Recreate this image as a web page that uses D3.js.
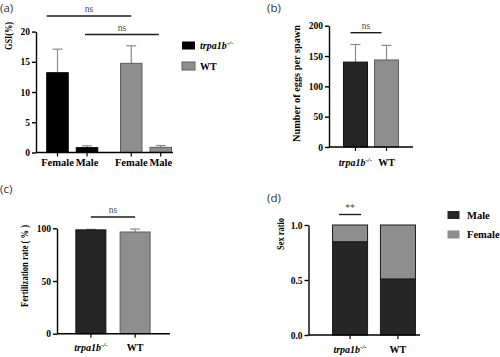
<!DOCTYPE html>
<html><head><meta charset="utf-8">
<script src="https://cdn.jsdelivr.net/npm/d3@7"></script>
<style>
body{margin:0;background:#fff}
svg{display:block}
</style></head>
<body><svg id="c" width="500" height="357"></svg>
<script>
// ---------- data ----------
const gsiCategories = ["Female","Male"];
const genotypes = ["trpa1b","WT"];
const gsiTrpa = [13.2, 0.8];
const gsiTrpaSD = [3.9, 0.3];
const gsiWT = [14.75, 0.85];
const gsiWTSD = [2.9, 0.3];
const gsiTicks = [0,5,10,15,20];

const eggsMean = [140, 143.5];
const eggsSD = [29, 24];
const eggsTicks = [0,50,100,150,200];

const fertMean = [98.5, 96.5];
const fertSD = [0.5, 2.8];
const fertTicks = [0,50,100];

const sexMale = [0.848, 0.51];
const sexFemale = [0.152, 0.49];
const sexTicks = [0,0.5,1.0];
const sexSeries = ["Male","Female"];

const sigLabels = ["ns","ns","ns","ns","**"];

// ---------- helpers ----------
const svg = d3.select("#c");
const BLACK = "#000", DARK = "#262626", GREY = "#8e8e8e", GREYSTROKE = "#5e5e5e", ERR = "#8a8a8a";
const serif = '"Liberation Serif","Times New Roman",serif';

function panelLabel(t, x, y){
  svg.append("text").attr("x",x).attr("y",y).text(t)
    .style("font-family",'"Open Sans","DejaVu Sans",sans-serif').style("font-size","11.5px").attr("fill","#333");
}
function yAxis(scale, x, ticks, fmt){
  const g = svg.append("g").attr("transform",`translate(${x},0)`)
    .call(d3.axisLeft(scale).tickValues(ticks).tickSize(4).tickSizeOuter(0).tickFormat(fmt).tickPadding(2));
  g.select(".domain").attr("stroke","#000").attr("stroke-width",1.4);
  g.selectAll(".tick line").attr("stroke","#000").attr("stroke-width",1.4);
  g.selectAll("text").style("font-family",serif).style("font-weight","bold").style("font-size","9.5px").attr("fill","#000");
  return g;
}
function xAxisLine(x0, x1, y, tickXs){
  svg.append("line").attr("x1",x0).attr("x2",x1).attr("y1",y).attr("y2",y).attr("stroke","#000").attr("stroke-width",1.4);
  tickXs.forEach(tx=>svg.append("line").attr("x1",tx).attr("x2",tx).attr("y1",y).attr("y2",y+4).attr("stroke","#000").attr("stroke-width",1.2));
}
function yLabel(t, x, y, len, size){
  svg.append("text").attr("transform",`translate(${x},${y}) rotate(-90)`).attr("text-anchor","middle")
    .attr("textLength",len).attr("lengthAdjust","spacingAndGlyphs")
    .style("font-family",serif).style("font-weight","bold").style("font-size",size+"px").text(t);
}
function genoLabel(sel, size){
  sel.style("font-family",serif).style("font-weight","bold").style("font-size",size+"px");
  sel.append("tspan").style("font-style","italic").text("trpa1b");
  sel.append("tspan").attr("dy",-4).style("font-size",(size*0.7)+"px").style("font-style","italic").text("-/-");
}
function bar(x, w, y0, y1, fill, stroke){
  svg.append("rect").attr("x",x-w/2).attr("width",w).attr("y",y1).attr("height",y0-y1)
    .attr("fill",fill).attr("stroke",stroke).attr("stroke-width",1);
}
function errBar(x, yTop, yEnd, cap){
  svg.append("line").attr("x1",x).attr("x2",x).attr("y1",yTop).attr("y2",yEnd).attr("stroke",ERR).attr("stroke-width",1.2);
  svg.append("line").attr("x1",x-cap/2).attr("x2",x+cap/2).attr("y1",yEnd).attr("y2",yEnd).attr("stroke",ERR).attr("stroke-width",1.2);
}
function sig(x0, x1, y, label){
  svg.append("line").attr("x1",x0).attr("x2",x1).attr("y1",y).attr("y2",y).attr("stroke","#1e1e1e").attr("stroke-width",1.4);
  svg.append("text").attr("x",(x0+x1)/2).attr("y",y-4).attr("text-anchor","middle")
    .style("font-family",serif).style("font-size","9.5px").attr("fill","#4a4a4a").text(label);
}

// ---------- panel (a) ----------
panelLabel("(a)", 0, 12);
{
  const y = d3.scaleLinear().domain([0,20]).range([152.5,31.6]);
  const x = d3.scaleLinear().domain([0,3.5]).range([57.5,160.75]);
  const bw = 21.5;
  yAxis(y, 36, gsiTicks, d3.format("d"));
  const groups = [{m:gsiTrpa, sd:gsiTrpaSD, fill:BLACK, stroke:BLACK},{m:gsiWT, sd:gsiWTSD, fill:GREY, stroke:GREYSTROKE}];
  const centers = [];
  groups.forEach((g,gi)=>{
    gsiCategories.forEach((c,ci)=>{
      const cx = x(gi*2.5+ci); centers.push(cx);
      errBar(cx, y(g.m[ci]), y(g.m[ci]+g.sd[ci]), 10);
      bar(cx, bw, y(0), y(g.m[ci]), g.fill, g.stroke);
      svg.append("text").attr("x",cx).attr("y",166).attr("text-anchor","middle")
        .style("font-family",serif).style("font-weight","bold").style("font-size","10.5px").text(c);
    });
  });
  xAxisLine(36, 173, y(0), centers);
  yLabel("GSI(%)", 11.5, 36, 28, 10.5);
  sig(x(0)-bw/2, x(2.5), 16, sigLabels[0]);
  sig(x(1)-2, x(3.5)-2, 34.5, sigLabels[1]);
  // legend
  svg.append("rect").attr("x",182).attr("y",41.5).attr("width",13).attr("height",8).attr("fill",BLACK);
  genoLabel(svg.append("text").attr("x",200).attr("y",49), 10);
  svg.append("rect").attr("x",182).attr("y",62).attr("width",13).attr("height",8).attr("fill",GREY).attr("stroke",GREYSTROKE);
  svg.append("text").attr("x",200).attr("y",70).style("font-family",serif).style("font-weight","bold").style("font-size","10px").text("WT");
}

// ---------- panel (b) ----------
panelLabel("(b)", 267, 12);
{
  const y = d3.scaleLinear().domain([0,200]).range([147,25.7]);
  const x = d3.scaleBand().domain(genotypes).range([335,407]).padding(0.32);
  yAxis(y, 329, eggsTicks, d3.format("d"));
  const fills = [DARK, GREY], strokes = ["#111", GREYSTROKE];
  genotypes.forEach((g,i)=>{
    const cx = x(g)+x.bandwidth()/2;
    errBar(cx, y(eggsMean[i]), y(eggsMean[i]+eggsSD[i]), 10);
    bar(cx, 24, y(0), y(eggsMean[i]), fills[i], strokes[i]);
  });
  const cs = genotypes.map(g=>x(g)+x.bandwidth()/2);
  xAxisLine(329, 413, y(0), cs);
  genoLabel(svg.append("text").attr("x",cs[0]).attr("y",166).attr("text-anchor","middle"), 10);
  svg.append("text").attr("x",cs[1]).attr("y",166).attr("text-anchor","middle").style("font-family",serif).style("font-weight","bold").style("font-size","10px").text("WT");
  yLabel("Number of eggs per spawn", 300, 83.5, 117, 10);
  sig(cs[0]-5, cs[1]-5, 32.7, sigLabels[2]);
}

// ---------- panel (c) ----------
panelLabel("(c)", 0, 193);
{
  const y = d3.scaleLinear().domain([0,100]).range([333.7,228.3]);
  const x = d3.scaleBand().domain(genotypes).range([63,163]).padding(0.26);
  yAxis(y, 57, fertTicks, d3.format("d"));
  const fills = [DARK, GREY], strokes = ["#111", GREYSTROKE];
  genotypes.forEach((g,i)=>{
    const cx = x(g)+x.bandwidth()/2;
    errBar(cx, y(fertMean[i]), y(fertMean[i]+fertSD[i]), 10);
    bar(cx, 30, y(0), y(fertMean[i]), fills[i], strokes[i]);
  });
  const cs = genotypes.map(g=>x(g)+x.bandwidth()/2);
  xAxisLine(57, 170, y(0), cs);
  genoLabel(svg.append("text").attr("x",cs[0]).attr("y",351).attr("text-anchor","middle"), 10);
  svg.append("text").attr("x",cs[1]).attr("y",351).attr("text-anchor","middle").style("font-family",serif).style("font-weight","bold").style("font-size","10px").text("WT");
  yLabel("Fertilization rate ( % )", 28, 266, 82, 9.5);
  sig(cs[0], cs[1], 217, sigLabels[3]);
}

// ---------- panel (d) ----------
panelLabel("(d)", 267, 202);
{
  const y = d3.scaleLinear().domain([0,1]).range([335,225]);
  const x = d3.scaleBand().domain(genotypes).range([318,430]).padding(0.34);
  yAxis(y, 308.5, sexTicks, d3.format(".1f"));
  const stack = d3.stack().keys(sexSeries)(genotypes.map((g,i)=>({Male:sexMale[i], Female:sexFemale[i]})));
  const fills = {Male:DARK, Female:GREY};
  stack.forEach(s=>{
    s.forEach((d,i)=>{
      const cx = x(genotypes[i])+x.bandwidth()/2;
      svg.append("rect").attr("x",cx-17.5).attr("width",35).attr("y",y(d[1])).attr("height",y(d[0])-y(d[1]))
        .attr("fill",fills[s.key]).attr("stroke","#1a1a1a").attr("stroke-width",1);
    });
  });
  const cs = genotypes.map(g=>x(g)+x.bandwidth()/2);
  xAxisLine(308.5, 420, y(0), cs);
  genoLabel(svg.append("text").attr("x",cs[0]).attr("y",353).attr("text-anchor","middle"), 10);
  svg.append("text").attr("x",cs[1]).attr("y",353).attr("text-anchor","middle").style("font-family",serif).style("font-weight","bold").style("font-size","10px").text("WT");
  yLabel("Sex ratio", 284, 234, 32, 10.5);
  sig(cs[0]-11, cs[0]+11, 214.5, sigLabels[4]);
  // legend
  sexSeries.forEach((k,i)=>{
    svg.append("rect").attr("x",448).attr("y",211.5+i*19.5).attr("width",11).attr("height",7).attr("fill",fills[k]).attr("stroke", i? GREY : DARK);
    svg.append("text").attr("x",467).attr("y",218.5+i*19.5).style("font-family",serif).style("font-weight","bold").style("font-size","10.5px").text(k);
  });
}
</script></body></html>
